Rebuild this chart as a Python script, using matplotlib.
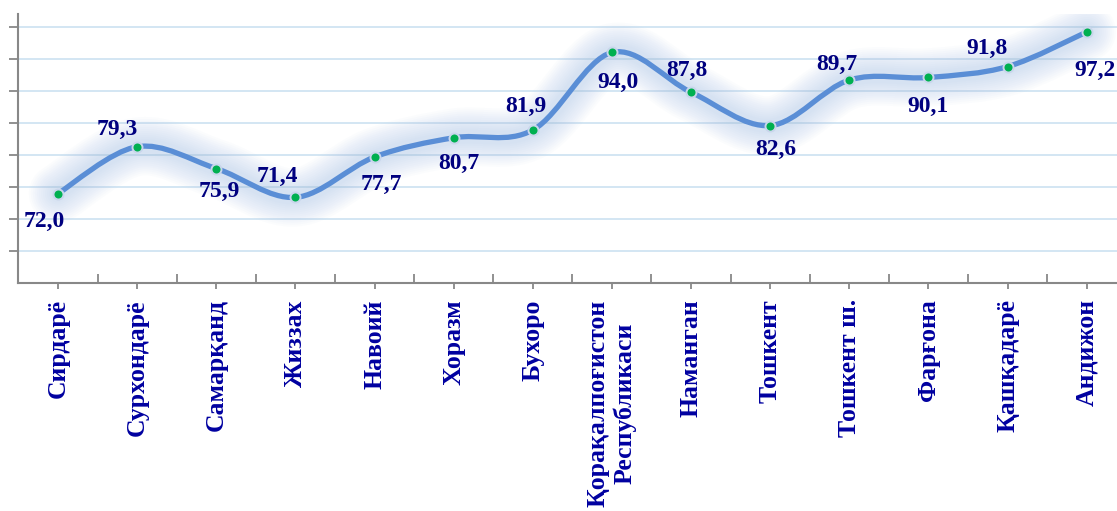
import numpy as np
import matplotlib.pyplot as plt
from matplotlib.path import Path
from matplotlib.patches import PathPatch

# Data
regions = ['Сирдарё', 'Сурхондарё', 'Самарқанд', 'Жиззах', 'Навоий', 'Хоразм',
           'Бухоро', 'Қорақалпоғистон\nРеспубликаси', 'Наманган', 'Тошкент',
           'Тошкент ш.', 'Фарғона', 'Қашқадарё', 'Андижон']
values = [72.0, 79.3, 75.9, 71.4, 77.7, 80.7, 81.9, 94.0, 87.8, 82.6, 89.7, 90.1, 91.8, 97.2]

# label offsets from the point, in pixels (dx, dy up)
label_offsets = [(-13.5, -25), (-19.5, 20), (3, -20), (-17.5, 23), (7, -25), (5, -23),
                 (-7, 26), (6, -27), (-4, 24), (6, -21.5), (-12, 18), (0, -26),
                 (-21, 21), (8, -36)]

line_color = '#5a8ed6'
glow_color = '#a9c2e6'
value_color = '#00007f'
cat_color = '#0000a0'
serif = ['Liberation Serif', 'DejaVu Serif']


def smooth_path(xs, ys):
    """ Cubic Bezier path through the points (Catmull-Rom style control points). """
    pts = np.column_stack([xs, ys]).astype(float)
    ext = np.vstack([pts[0], pts, pts[-1]])
    verts = [pts[0]]
    codes = [Path.MOVETO]
    for i in range(1, len(ext) - 2):
        p0, p1, p2, p3 = ext[i - 1], ext[i], ext[i + 1], ext[i + 2]
        c1 = p1 + (p2 - p0) / 6.0
        c2 = p2 - (p3 - p1) / 6.0
        verts += [c1, c2, p2]
        codes += [Path.CURVE4] * 3
    return Path(verts, codes)


fig = plt.figure(figsize=(11.17, 5.11), dpi=100)
ax = fig.add_axes([18.4 / 1117, 1 - 283.3 / 511, 1107.9 / 1117, 269.3 / 511])

x = np.arange(len(values))
path = smooth_path(x, values)

# soft glow under the line
for lw in np.linspace(42, 10, 12):
    ax.add_patch(PathPatch(path, fill=False, edgecolor=glow_color, lw=lw, alpha=0.045,
                           capstyle='round', joinstyle='round', zorder=2))
ax.add_patch(PathPatch(path, fill=False, edgecolor=line_color, lw=3.8,
                       capstyle='round', zorder=3))
ax.plot(x, values, 'o', color='#00b050', markersize=7.2, markeredgecolor='#c9d6ec',
        markeredgewidth=1.4, zorder=4)

for xi, v, (dx, dy) in zip(x, values, label_offsets):
    ax.annotate(f'{v:.1f}'.replace('.', ','), (xi, v),
                xytext=(dx * 0.72, (dy - 8) * 0.72), textcoords='offset points',
                ha='center', va='baseline', fontsize=17, fontweight='bold',
                color=value_color, family=serif, zorder=5)

ax.set_xlim(-0.5, len(values) - 0.5)
ax.set_ylim(58, 100)
ax.set_yticks(np.arange(63, 99, 5))
ax.set_yticklabels([])
ax.grid(axis='y', color='#d3e6f3', lw=1.4, zorder=1)
ax.set_axisbelow(True)

ax.set_xticks(x)
ax.set_xticklabels(regions, rotation=90, multialignment='center', fontsize=18.5,
                   fontweight='bold', color=cat_color, family=serif)
ax.set_xticks(np.arange(-0.5, len(values), 1), minor=True)

for s in ['top', 'right']:
    ax.spines[s].set_visible(False)
for s in ['left', 'bottom']:
    ax.spines[s].set_color('#888888')
    ax.spines[s].set_linewidth(1.5)

ax.tick_params(axis='x', which='major', direction='out', length=4, width=1.3,
               color='#888888', pad=7.5)
ax.tick_params(axis='x', which='minor', direction='in', length=6.5, width=1.3,
               color='#888888')
ax.tick_params(axis='y', which='major', direction='out', length=6.5, width=1.3,
               color='#888888')

fig.savefig('out.png', dpi=100)
